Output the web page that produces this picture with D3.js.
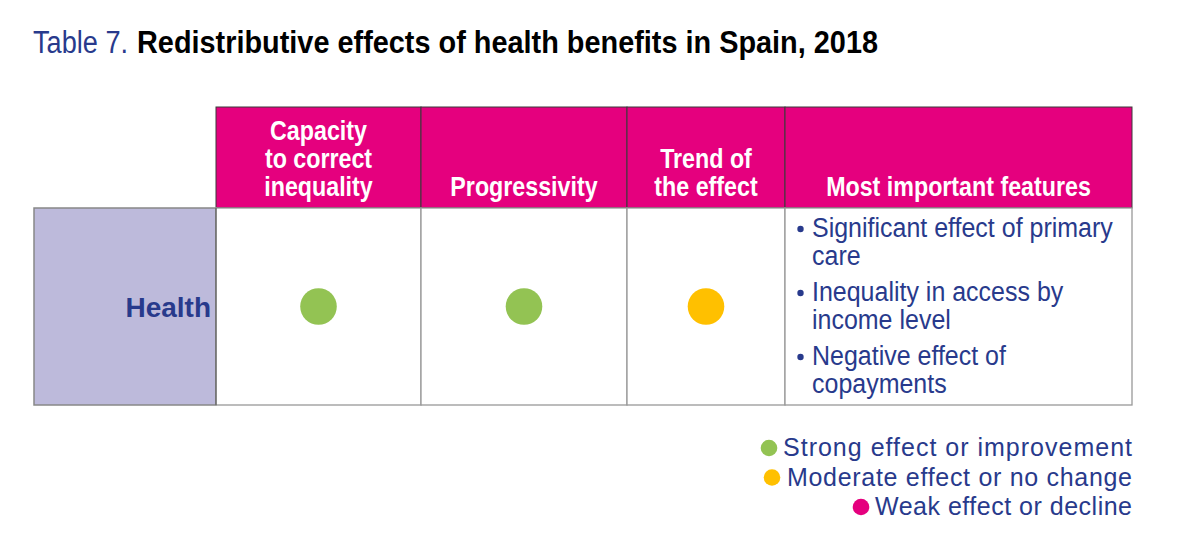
<!DOCTYPE html>
<html><head><meta charset="utf-8">
<script src="https://cdn.jsdelivr.net/npm/d3@7"></script>
<style>
body{margin:0;background:#fff;}
svg{display:block;}
</style></head><body>
<svg id="c" width="1199" height="544"></svg>
<script>
// ---- data ----
const titlePrefix = "Table 7.";
const titleMain = "Redistributive effects of health benefits in Spain, 2018";
const columns = [["Capacity","to correct","inequality"],["Progressivity"],["Trend of","the effect"],["Most important features"]];
const columnWeights = [205, 206, 158, 347];
const rowLabels = ["Health"];
const ratings = ["strong","strong","moderate"];
const features = [["Significant effect of primary","care"],["Inequality in access by","income level"],["Negative effect of","copayments"]];
const legendKeys = ["strong","moderate","weak"];
const legendLabels = ["Strong effect or improvement","Moderate effect or no change","Weak effect or decline"];

// ---- style / layout ----
const navy = "#283a8c", pink = "#e5007e", lav = "#bdbadb";
const color = d3.scaleOrdinal().domain(legendKeys).range(["#93c353","#ffc000","#e5007e"]);
const font = "'Liberation Sans',Arial,Helvetica,sans-serif";
const legendTextWidths = [349, 345, 257];
const legendDotGap = [14, 15, 14];

const svg = d3.select("#c");

function squeeze(sel, f, adjust){
  const w = sel.node().getComputedTextLength();
  sel.attr("textLength", w*f).attr("lengthAdjust", adjust || "spacingAndGlyphs");
  return sel;
}
function fitTo(sel, target, adjust){
  sel.attr("textLength", target).attr("lengthAdjust", adjust || "spacingAndGlyphs");
  return sel;
}

// title
const tp = svg.append("text").attr("x",33).attr("y",53).attr("font-family",font).attr("font-size",31)
  .attr("fill",navy).text(titlePrefix);
fitTo(tp, 95);
const tm = svg.append("text").attr("x",137).attr("y",53).attr("font-family",font).attr("font-size",31)
  .attr("font-weight","bold").attr("fill","#000").text(titleMain);
fitTo(tm, 741);

// scales
const cum = [0]; columnWeights.forEach(w=>cum.push(cum[cum.length-1]+w));
const x = d3.scaleLinear().domain([0, cum[cum.length-1]]).range([216, 1132]);
const headTop = 107, headBot = 208, rowBot = 405, labelLeft = 34;
const y = d3.scaleBand().domain(rowLabels).range([headBot,rowBot]);

// header
const hg = svg.append("g");
columns.forEach((lines,i)=>{
  const x0 = x(cum[i]), x1 = x(cum[i+1]);
  hg.append("rect").attr("x",x0).attr("y",headTop).attr("width",x1-x0).attr("height",headBot-headTop)
    .attr("fill",pink).attr("stroke","#3a3a3a").attr("stroke-width",1);
  lines.forEach((l,j)=>{
    const tx = hg.append("text").attr("x",(x0+x1)/2).attr("y",196-(lines.length-1-j)*28)
      .attr("text-anchor","middle").attr("font-family",font).attr("font-weight","bold")
      .attr("font-size",28).attr("fill","#fff").text(l);
    squeeze(tx, 0.83);
  });
});

// body
const bg = svg.append("g");
rowLabels.forEach(r=>{
  const y0 = y(r), h = y.bandwidth();
  bg.append("rect").attr("x",labelLeft).attr("y",y0).attr("width",x(0)-labelLeft).attr("height",h)
    .attr("fill",lav).attr("stroke","#888").attr("stroke-width",1.5);
  bg.append("text").attr("x",x(0)-5).attr("y",y0+h/2+10).attr("text-anchor","end")
    .attr("font-family",font).attr("font-weight","bold").attr("font-size",28).attr("fill",navy).text(r);
  columns.forEach((c,i)=>{
    const x0 = x(cum[i]), x1 = x(cum[i+1]);
    bg.append("rect").attr("x",x0).attr("y",y0).attr("width",x1-x0).attr("height",h)
      .attr("fill","#fff").attr("stroke","#999").attr("stroke-width",1.3);
  });
  bg.append("line").attr("x1",x(0)).attr("x2",x(0)).attr("y1",y0).attr("y2",y0+h).attr("stroke","#555").attr("stroke-width",1);
  ratings.forEach((rt,i)=>{
    bg.append("circle").attr("cx",(x(cum[i])+x(cum[i+1]))/2).attr("cy",y0+h/2).attr("r",18.3).attr("fill",color(rt));
  });
  const fx = x(cum[3]);
  let base = y0 + 29;
  features.forEach((lines,k)=>{
    bg.append("circle").attr("cx",fx+15.5).attr("cy",base-8).attr("r",3.2).attr("fill",navy);
    lines.forEach((l,j)=>{
      const tx = bg.append("text").attr("x",fx+27).attr("y",base+j*28).attr("font-family",font)
        .attr("font-size",27).attr("fill",navy).text(l);
      squeeze(tx, 0.925);
    });
    base += 64;
  });
});

// legend
const lg = svg.append("g");
legendLabels.forEach((l,i)=>{
  const yy = 456 + i*29.5;
  const tx = lg.append("text").attr("x",1132).attr("y",yy).attr("text-anchor","end")
    .attr("font-family",font).attr("font-size",25).attr("fill",navy).text(l);
  fitTo(tx, legendTextWidths[i], "spacing");
  lg.append("circle").attr("cx",1132-legendTextWidths[i]-legendDotGap[i]).attr("cy",yy-8).attr("r",8.3)
    .attr("fill",color(legendKeys[i]));
});
</script>
</body></html>
